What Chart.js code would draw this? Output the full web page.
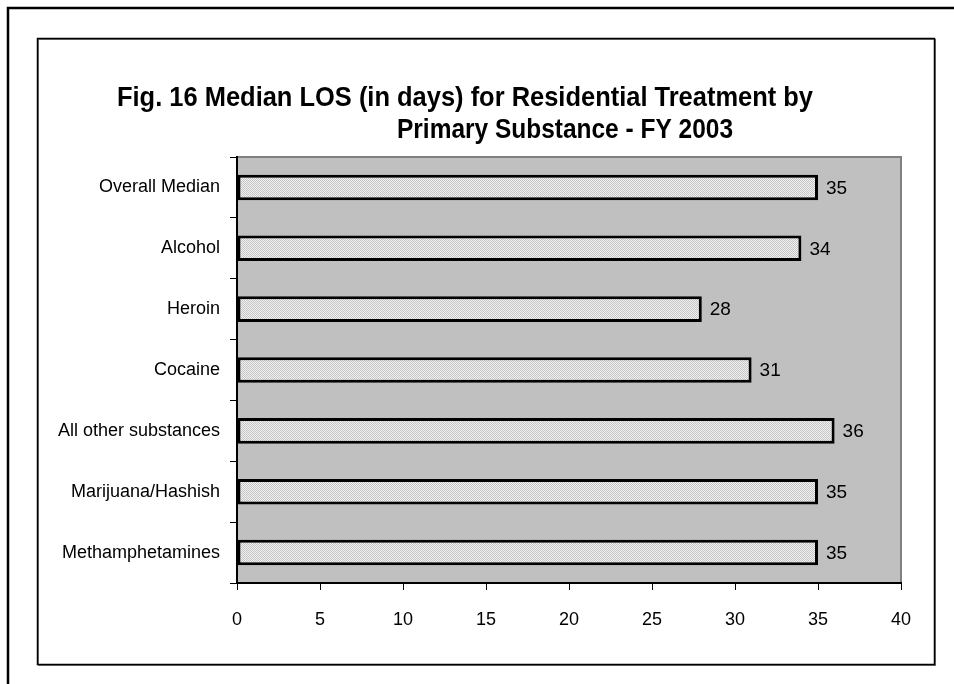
<!DOCTYPE html>
<html>
<head>
<meta charset="utf-8">
<script src="https://cdn.jsdelivr.net/npm/chart.js@4/dist/chart.umd.min.js"></script>
<style>
html,body{margin:0;padding:0;background:#fff;}
#wrap{width:954px;height:684px;position:relative;}
</style>
</head>
<body>
<div id="wrap"><canvas id="c" width="954" height="684"></canvas></div>
<script>
const categories = ["Overall Median","Alcohol","Heroin","Cocaine","All other substances","Marijuana/Hashish","Methamphetamines"];
const losValues = [35,34,28,31,36,35,35];
const xTicks = [0,5,10,15,20,25,30,35,40];
const titleLines = ["Fig. 16 Median LOS (in days) for Residential Treatment by","Primary Substance - FY 2003"];

const FONT = "'Liberation Sans',Arial,sans-serif";

function makePattern(){
  const p = document.createElement('canvas'); p.width=2; p.height=2;
  const g = p.getContext('2d');
  g.fillStyle='#f2f2f2'; g.fillRect(0,0,2,2);
  g.fillStyle='#c4c4c4'; g.fillRect(0,0,1,1); g.fillRect(1,1,1,1);
  return document.getElementById('c').getContext('2d').createPattern(p,'repeat');
}

// title line layout (centre x, centre y, target width) – styling only
const titleLayout = [{cx:465, cy:98, w:696},{cx:565, cy:130, w:336}];

const frame = {
  id:'frame',
  beforeDraw(chart){
    const ctx = chart.ctx;
    ctx.save();
    ctx.fillStyle='#fff'; ctx.fillRect(0,0,chart.width,chart.height);
    ctx.strokeStyle='#000'; ctx.lineWidth=2.5;
    ctx.beginPath(); ctx.moveTo(8,chart.height+5); ctx.lineTo(8,8); ctx.lineTo(chart.width+5,8); ctx.stroke();
    ctx.strokeStyle='#777'; ctx.lineWidth=1;
    ctx.strokeRect(38.5,39.5,897,626);
    ctx.strokeStyle='#000'; ctx.lineWidth=1.5;
    ctx.strokeRect(37.5,38.5,897,626);
    const a = chart.chartArea;
    ctx.fillStyle='#c0c0c0';
    ctx.fillRect(a.left,a.top,a.right-a.left,a.bottom-a.top);
    ctx.strokeStyle='#808080'; ctx.lineWidth=2;
    ctx.beginPath(); ctx.moveTo(a.left,a.top); ctx.lineTo(a.right,a.top); ctx.lineTo(a.right,a.bottom); ctx.stroke();
    // title
    ctx.fillStyle='#000';
    ctx.font = "bold 28px " + FONT;
    ctx.textBaseline='middle'; ctx.textAlign='center';
    titleLines.forEach((t,i)=>{
      const L = titleLayout[i];
      const m = ctx.measureText(t).width;
      const sx = L.w/m;
      ctx.save();
      ctx.translate(L.cx, L.cy);
      ctx.scale(sx,1);
      ctx.fillText(t,0,0);
      ctx.restore();
    });
    ctx.restore();
  },
  afterDatasetsDraw(chart){
    const ctx = chart.ctx;
    const meta = chart.getDatasetMeta(0);
    ctx.save();
    ctx.fillStyle='#000';
    ctx.font = "19px " + FONT;
    ctx.textBaseline='middle'; ctx.textAlign='left';
    meta.data.forEach((bar,i)=>{
      ctx.fillText(String(chart.data.datasets[0].data[i]), bar.x+8, bar.y+1);
    });
    ctx.restore();
  }
};

new Chart(document.getElementById('c'), {
  type:'bar',
  data:{
    labels:categories,
    datasets:[{
      data:losValues,
      backgroundColor:makePattern(),
      borderColor:'#000',
      borderWidth:3,
      borderSkipped:false,
      barPercentage:0.42,
      categoryPercentage:1.0
    }]
  },
  plugins:[frame],
  options:{
    indexAxis:'y',
    responsive:false,
    animation:false,
    devicePixelRatio:1,
    layout:{padding:{top:157,left:0,right:53,bottom:40}},
    plugins:{
      legend:{display:false},
      tooltip:{enabled:false},
      title:{display:false}
    },
    scales:{
      x:{
        min:0,max:40,
        afterBuildTicks(s){ s.ticks = xTicks.map(v=>({value:v})); },
        afterFit(s){ s.height = 684-40-583; },
        ticks:{color:'#000',font:{family:FONT,size:18},padding:19,maxRotation:0},
        grid:{drawOnChartArea:false,tickLength:7,color:'#000',tickColor:'#000',lineWidth:1},
        border:{color:'#000',width:2}
      },
      y:{
        afterFit(s){ s.width = 237; },
        ticks:{color:'#000',font:{family:FONT,size:18},padding:10},
        grid:{offset:true,drawOnChartArea:false,tickLength:7,color:'#000',tickColor:'#000',lineWidth:1},
        border:{color:'#000',width:2}
      }
    }
  }
});
</script>
</body>
</html>
